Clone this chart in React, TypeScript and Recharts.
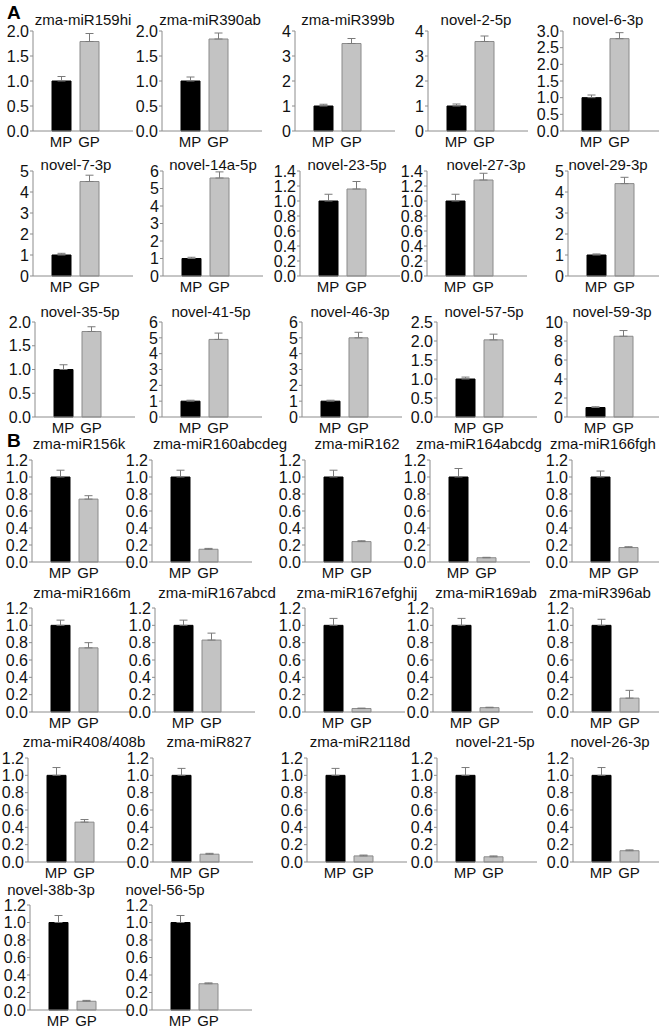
import React from 'react';
import { BarChart, Bar, XAxis, YAxis, ErrorBar, Cell } from 'recharts';

// one entry per small panel, A1..A15 then B1..B17
const titles = [
  'zma-miR159hi', 'zma-miR390ab', 'zma-miR399b', 'novel-2-5p', 'novel-6-3p',
  'novel-7-3p', 'novel-14a-5p', 'novel-23-5p', 'novel-27-3p', 'novel-29-3p',
  'novel-35-5p', 'novel-41-5p', 'novel-46-3p', 'novel-57-5p', 'novel-59-3p',
  'zma-miR156k', 'zma-miR160abcdeg', 'zma-miR162', 'zma-miR164abcdg', 'zma-miR166fgh',
  'zma-miR166m', 'zma-miR167abcd', 'zma-miR167efghij', 'zma-miR169ab', 'zma-miR396ab',
  'zma-miR408/408b', 'zma-miR827', 'zma-miR2118d', 'novel-21-5p', 'novel-26-3p',
  'novel-38b-3p', 'novel-56-5p',
];
const groups = ['MP', 'GP'];
const mpValues = [
  1, 1, 1, 1, 1,
  1, 1, 1, 1, 1,
  1, 1, 1, 1, 1,
  1, 1, 1, 1, 1,
  1, 1, 1, 1, 1,
  1, 1, 1, 1, 1,
  1, 1,
];
const gpValues = [
  1.79, 1.84, 3.5, 3.58, 2.77,
  4.5, 5.6, 1.16, 1.28, 4.4,
  1.8, 4.9, 5.0, 2.03, 8.5,
  0.74, 0.15, 0.24, 0.05, 0.17,
  0.74, 0.83, 0.04, 0.05, 0.16,
  0.46, 0.09, 0.07, 0.06, 0.13,
  0.1, 0.3,
];
const mpErrors = [
  0.09, 0.08, 0.07, 0.08, 0.08,
  0.08, 0.07, 0.09, 0.09, 0.05,
  0.1, 0.06, 0.06, 0.05, 0.08,
  0.08, 0.08, 0.08, 0.1, 0.07,
  0.06, 0.06, 0.08, 0.08, 0.07,
  0.09, 0.08, 0.08, 0.09, 0.09,
  0.08, 0.08,
];
const gpErrors = [
  0.16, 0.12, 0.2, 0.22, 0.18,
  0.3, 0.35, 0.1, 0.09, 0.3,
  0.1, 0.4, 0.35, 0.15, 0.6,
  0.04, 0.01, 0.01, 0.005, 0.01,
  0.06, 0.08, 0.005, 0.005, 0.09,
  0.03, 0.01, 0.01, 0.01, 0.01,
  0.01, 0.01,
];
const yMaxes = [
  2, 2, 4, 4, 3,
  5, 6, 1.4, 1.4, 5,
  2, 6, 6, 2.5, 10,
  1.2, 1.2, 1.2, 1.2, 1.2,
  1.2, 1.2, 1.2, 1.2, 1.2,
  1.2, 1.2, 1.2, 1.2, 1.2,
  1.2, 1.2,
];
const ySteps = [
  0.5, 0.5, 1, 1, 0.5,
  1, 1, 0.2, 0.2, 1,
  0.5, 1, 1, 0.5, 2,
  0.2, 0.2, 0.2, 0.2, 0.2,
  0.2, 0.2, 0.2, 0.2, 0.2,
  0.2, 0.2, 0.2, 0.2, 0.2,
  0.2, 0.2,
];

// layout of the grid
const rowTops = [31, 171, 322, 460, 608, 758, 905];
const rowHeights = [100, 105, 95, 102, 104, 104, 105];
const rowTitleY = [20, 165, 312, 444, 593, 742, 890];
const axisX = [
  [33, 162, 295, 428, 563],
  [33, 163, 300, 427, 568],
  [35, 162, 302, 437, 567],
  [32, 152, 305, 430, 572],
  [32, 155, 305, 433, 573],
  [28, 153, 307, 437, 573],
  [30, 152],
];
const titleX = [
  [83, 210, 348, 476, 608],
  [76, 213, 347, 486, 608],
  [80, 211, 350, 484, 612],
  [79, 220, 357, 479, 603],
  [82, 217, 357, 486, 600],
  [84, 209, 360, 495, 610],
  [51, 165],
];

const FONT = '"Liberation Sans", Arial, sans-serif';
const Y_W = 34;
const PLOT_W = 100;
const TOP_M = 12;
const X_H = 24;

const Panel = ({ i }: { i: number }) => {
  const row = i < 30 ? Math.floor(i / 5) : 6;
  const col = i < 30 ? i % 5 : i - 30;
  const x0 = axisX[row][col];
  const plotH = rowHeights[row];
  const step = ySteps[i];
  const n = Math.round(yMaxes[i] / step);
  const ticks = Array.from({ length: n + 1 }, (_, k) => +(k * step).toFixed(2));
  const data = groups.map((g, k) => ({
    name: g,
    value: k === 0 ? mpValues[i] : gpValues[i],
    err: [0, k === 0 ? mpErrors[i] : gpErrors[i]],
  }));

  return (
    <>
      <div
        style={{
          position: 'absolute',
          left: titleX[row][col] - 100,
          width: 200,
          top: rowTitleY[row] - 5,
          lineHeight: '10px',
          fontSize: 15,
          textAlign: 'center',
          whiteSpace: 'nowrap',
          color: '#111',
        }}
      >
        {titles[i]}
      </div>
      <div style={{ position: 'absolute', left: x0 - Y_W, top: rowTops[row] - TOP_M }}>
        <BarChart
          width={Y_W + PLOT_W + 4}
          height={TOP_M + plotH + X_H}
          data={data}
          margin={{ top: TOP_M, right: 4, bottom: 0, left: 0 }}
          barSize={19}
        >
          <YAxis
            width={Y_W}
            domain={[0, yMaxes[i]]}
            ticks={ticks}
            interval={0}
            tickFormatter={(v: number) => (step < 1 ? v.toFixed(1) : String(v))}
            tick={{ fontSize: 16, fill: '#111', fontFamily: FONT }}
            tickSize={3}
            tickMargin={1}
            stroke="#8c8c8c"
          />
          <XAxis
            dataKey="name"
            height={X_H}
            padding={{ left: 14, right: 30 }}
            tickSize={0}
            tickMargin={5}
            tick={{ fontSize: 15, fill: '#111', fontFamily: FONT }}
            stroke="#8c8c8c"
          />
          <Bar dataKey="value" isAnimationActive={false}>
            {data.map((d, k) => (
              <Cell
                key={d.name}
                fill={k === 0 ? '#000000' : '#c3c3c3'}
                stroke={k === 0 ? '#000000' : '#8a8a8a'}
                strokeWidth={1}
              />
            ))}
            <ErrorBar dataKey="err" width={4} stroke="#7a7a7a" strokeWidth={1} direction="y" />
          </Bar>
        </BarChart>
      </div>
    </>
  );
};

export default function App() {
  return (
    <div
      style={{
        position: 'absolute',
        left: 0,
        top: 0,
        width: 659,
        height: 1031,
        background: '#fff',
        fontFamily: FONT,
      }}
    >
      <div style={{ position: 'absolute', left: 7, top: 5, fontSize: 19, lineHeight: '16px', fontWeight: 'bold' }}>A</div>
      <div style={{ position: 'absolute', left: 7, top: 433, fontSize: 19, lineHeight: '16px', fontWeight: 'bold' }}>B</div>
      {titles.map((_, i) => (
        <Panel key={i} i={i} />
      ))}
    </div>
  );
}
